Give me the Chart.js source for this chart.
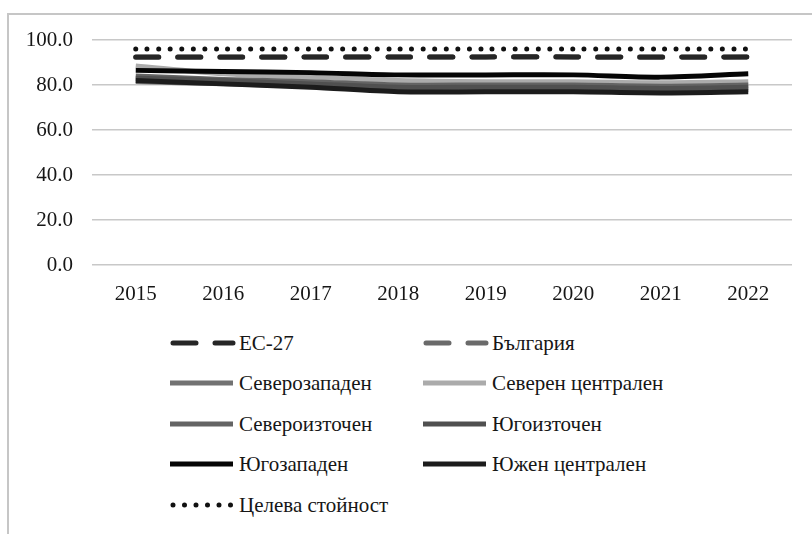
<!DOCTYPE html>
<html>
<head>
<meta charset="utf-8">
<script src="https://cdn.jsdelivr.net/npm/chart.js@4"></script>
<style>
  body { margin: 0; background: #fff; }
  #frame { position: absolute; left: 7px; top: 13px; width: 830px; height: 540px; border: 2px solid #c6c6c6; }
  #chartBox { position: absolute; left: 0; top: 0; width: 812px; height: 315px; }
  #legend { position: absolute; left: 0; top: 0; font-family: "Liberation Serif", serif; font-size: 21px; color: #161616; }
  .item { position: absolute; display: flex; align-items: center; white-space: nowrap; }
  .item svg { margin-right: 3px; }
</style>
</head>
<body>
<div id="frame"></div>
<div id="chartBox"><canvas id="chart" width="812" height="315"></canvas></div>
<div id="legend"></div>

<script>
const years = ["2015", "2016", "2017", "2018", "2019", "2020", "2021", "2022"];
const yTicks = [0, 20, 40, 60, 80, 100];

const eu27 = [92.5, 92.5, 92.5, 92.5, 92.5, 92.5, 92.4, 92.5];
const bulgaria = [92.3, 92.3, 92.4, 92.4, 92.5, 92.4, 92.3, 92.4];
const severozapaden = [81.5, 80.5, 79.5, 78, 78, 78, 77.5, 78];
const severenCentralen = [88.5, 85, 83.5, 82, 81.5, 81.5, 81, 81.5];
const severoiztochen = [84, 82.5, 81.5, 80, 80, 80, 79.5, 80];
const yugoiztochen = [83, 82, 80.5, 79, 79, 79, 78.5, 79];
const yugozapaden = [86.5, 86, 85.5, 84.5, 84.5, 84.5, 83.5, 85];
const yuzhenCentralen = [82, 80.5, 79, 77, 77, 77, 76.5, 77];
const target = [96, 96, 96, 96, 96, 96, 96, 96];

// z: lower is drawn on top
const series = [
  { label: "ЕС-27", data: eu27, color: "#262626", dash: [23, 19], z: 1 },
  { label: "България", data: bulgaria, color: "#6a6a6a", dash: [23, 19], z: 2 },
  { label: "Северозападен", data: severozapaden, color: "#727272", dash: [], z: 8 },
  { label: "Северен централен", data: severenCentralen, color: "#ababab", dash: [], z: 7 },
  { label: "Североизточен", data: severoiztochen, color: "#646464", dash: [], z: 6 },
  { label: "Югоизточен", data: yugoiztochen, color: "#505050", dash: [], z: 5 },
  { label: "Югозападен", data: yugozapaden, color: "#050505", dash: [], z: 4 },
  { label: "Южен централен", data: yuzhenCentralen, color: "#1c1c1c", dash: [], z: 3 },
  { label: "Целева стойност", data: target, color: "#111111", dash: [0, 11.5], z: 0 },
];

const font = { family: "'Liberation Serif', serif", size: 21 };

const chart = new Chart(document.getElementById("chart"), {
  type: "line",
  data: {
    labels: years,
    datasets: series.map((s) => ({
      label: s.label,
      data: s.data,
      borderColor: s.color,
      backgroundColor: s.color,
      borderWidth: 5,
      borderDash: s.dash,
      borderCapStyle: s.dash.length ? "round" : "butt",
      pointRadius: 0,
      tension: 0.3,
      order: s.z,
    })),
  },
  options: {
    responsive: false,
    animation: false,
    layout: { padding: { top: 40, right: 20, left: 0, bottom: 0 } },
    plugins: { legend: { display: false }, tooltip: { enabled: false } },
    scales: {
      x: {
        offset: true,
        grid: { display: false },
        border: { display: false },
        ticks: { color: "#161616", font: font, padding: 9, maxRotation: 0 },
        afterFit: (scale) => { scale.height = 50; },
      },
      y: {
        min: 0,
        max: 100,
        afterBuildTicks: (scale) => { scale.ticks = yTicks.map((v) => ({ value: v })); },
        grid: { color: "#c8c8c8", lineWidth: 1.5, drawTicks: false },
        border: { display: false },
        ticks: { color: "#161616", font: font, padding: 19, callback: (v) => v.toFixed(1) },
        afterFit: (scale) => { scale.width = 92; },
      },
    },
  },
});

// legend in two columns, like the source
const legend = document.getElementById("legend");
const colX = [170, 423];
const rowY = [343, 383, 424, 464, 505];
chart.data.datasets.forEach((ds, i) => {
  const s = series[i];
  const item = document.createElement("div");
  item.className = "item";
  item.style.left = colX[i % 2] + "px";
  item.style.top = rowY[Math.floor(i / 2)] - 14 + "px";
  const dash = s.dash.length ? `stroke-dasharray="${s.dash.join(" ")}" stroke-linecap="round"` : "";
  item.innerHTML = `<svg width="66" height="28"><line x1="${s.dash.length ? 3 : 0}" y1="14" x2="63" y2="14" stroke="${s.color}" stroke-width="5" ${dash}/></svg><span>${ds.label}</span>`;
  legend.appendChild(item);
});
</script>
</body>
</html>
